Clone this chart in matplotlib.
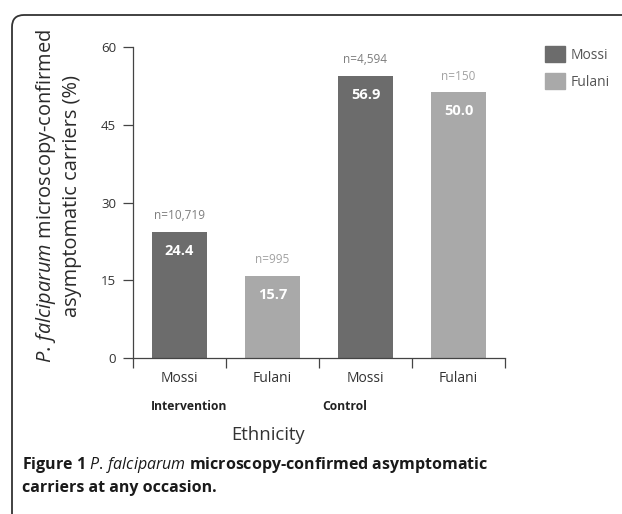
import matplotlib
matplotlib.use("Agg")
from matplotlib import pyplot as plt
from matplotlib.patches import FancyBboxPatch, Patch
from matplotlib.transforms import IdentityTransform

# data
groups = ["Intervention", "Control"]
ethnic = ["Mossi", "Fulani", "Mossi", "Fulani"]
heights = [24.4, 15.8, 54.4, 51.2]      # drawn bar heights
valueLabels = ["24.4", "15.7", "56.9", "50.0"]
nLabels = ["n=10,719", "n=995", "n=4,594", "n=150"]
yticks = [0, 15, 30, 45, 60]

darkCol = "#6c6c6c"
lightCol = "#a9a9a9"
barCols = [darkCol, lightCol, darkCol, lightCol]
nCols = ["#7d7d7d", "#a2a2a2", "#7d7d7d", "#a2a2a2"]

plt.rcParams["font.family"] = ["Open Sans", "DejaVu Sans"]
plt.rcParams["mathtext.fontset"] = "custom"
plt.rcParams["mathtext.it"] = "Open Sans:italic"
plt.rcParams["mathtext.rm"] = "Open Sans"

fig = plt.figure(figsize=(6.22, 5.14), dpi=100)
W, H = 622.0, 514.0
ax = fig.add_axes([133 / W, 1 - 358.3 / H, (505 - 133) / W, (358.3 - 46.7) / H])

xs = list(range(len(heights)))
ax.bar(xs, heights, width=0.59, color=barCols, zorder=2)

for x, h, v, n, nc in zip(xs, heights, valueLabels, nLabels, nCols):
    ax.annotate(v, (x, h), xytext=(0, -13.7), textcoords="offset points",
                ha="center", va="center", color="white", fontsize=10.5, fontweight="bold")
    ax.annotate(n, (x, h), xytext=(0, 11.8), textcoords="offset points",
                ha="center", va="center", color=nc, fontsize=8.5)

ax.set_xlim(-0.5, 3.5)
ax.set_ylim(0, 60)
ax.set_yticks(yticks)
ax.set_yticklabels([str(t) for t in yticks])
ax.set_xticks([-0.5, 0.5, 1.5, 2.5, 3.5])
ax.set_xticklabels([])
ax.set_xticks(xs, minor=True)
ax.set_xticklabels(ethnic, minor=True)

for s in ["top", "right"]:
    ax.spines[s].set_visible(False)
for s in ["left", "bottom"]:
    ax.spines[s].set_color("#444444")
    ax.spines[s].set_linewidth(0.9)

ax.tick_params(axis="y", length=7.2, width=0.9, color="#444444", pad=5,
               labelsize=9.5, labelcolor="#333333")
ax.tick_params(axis="x", which="major", length=7.2, width=0.9, color="#444444")
ax.tick_params(axis="x", which="minor", length=0, pad=9, labelsize=10,
               labelcolor="#333333")

# group labels and axis title
fig.text(189.5 / W, 1 - 406.7 / H, groups[0], ha="center", va="center",
         fontsize=8.7, fontweight="bold", color="#222222")
fig.text(345 / W, 1 - 406.7 / H, groups[1], ha="center", va="center",
         fontsize=8.7, fontweight="bold", color="#222222")
fig.text(268 / W, 1 - 435 / H, "Ethnicity", ha="center", va="center",
         fontsize=13.3, color="#333333")

fig.text(58 / W, 1 - 196 / H,
         "$P.\\,falciparum$ microscopy-confirmed\nasymptomatic carriers (%)",
         ha="center", va="center", rotation=90, fontsize=14.4,
         color="#2a2a2a", linespacing=1.25)

# legend
handles = [Patch(color=darkCol), Patch(color=lightCol)]
ax.legend(handles, ["Mossi", "Fulani"], loc="upper left",
          bbox_to_anchor=(545 / W, 1 - 46 / H), bbox_transform=fig.transFigure,
          frameon=False, borderpad=0, borderaxespad=0, handlelength=1.44,
          handleheight=1.44, handletextpad=0.4, labelspacing=0.72,
          fontsize=10, labelcolor="#555555")

# caption
fig.text(22 / W, 1 - 465 / H,
         "Figure 1 $P.\\,falciparum$ microscopy-confirmed asymptomatic",
         ha="left", va="center", fontsize=11.5, fontweight="bold", color="#1a1a1a")
fig.text(22 / W, 1 - 488 / H, "carriers at any occasion.",
         ha="left", va="center", fontsize=11.5, fontweight="bold", color="#1a1a1a")

# rounded frame
frame = FancyBboxPatch((12, -30), 700, H - 15 + 30,
                       boxstyle="round,pad=0,rounding_size=12",
                       transform=IdentityTransform(), fill=False,
                       edgecolor="#333333", linewidth=1.3)
fig.add_artist(frame)

fig.savefig("out.png", dpi=100)
